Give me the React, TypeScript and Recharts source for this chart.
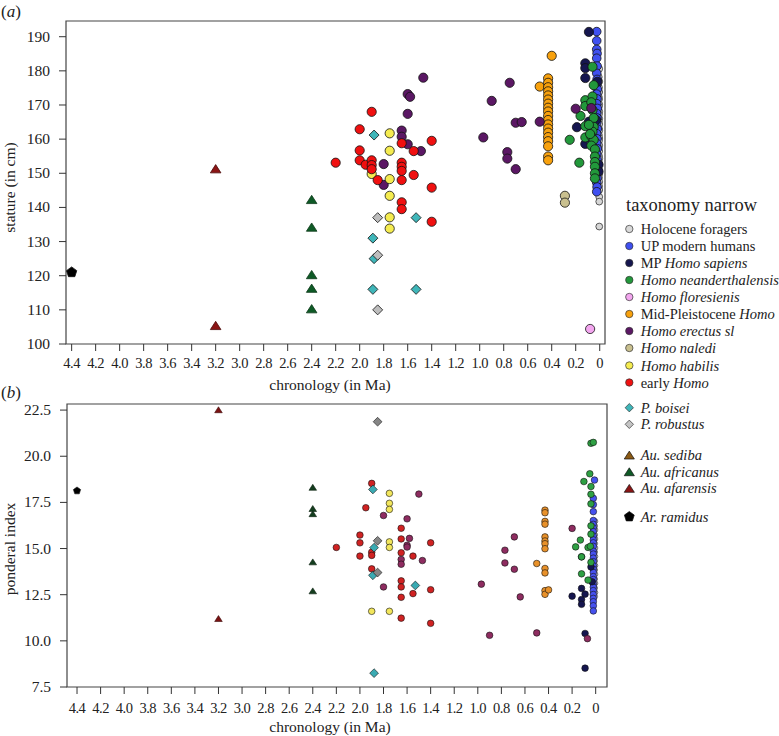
import React from 'react';
import { ScatterChart, Scatter, XAxis, YAxis, ReferenceArea } from 'recharts';

const FONT = "'Liberation Serif', Tinos, 'Times New Roman', Times, 'DejaVu Serif', serif";

const maTicks = [4.4, 4.2, 4.0, 3.8, 3.6, 3.4, 3.2, 3.0, 2.8, 2.6, 2.4, 2.2, 2.0, 1.8, 1.6, 1.4, 1.2, 1.0, 0.8, 0.6, 0.4, 0.2, 0];
const statureTicks = [100, 110, 120, 130, 140, 150, 160, 170, 180, 190];
const ponderalTicks = [7.5, 10, 12.5, 15, 17.5, 20, 22.5];

// [chronology (Ma), stature (cm)]
const holoceneStature = [
  [0.004, 180.6], [0.008, 178.2], [0.004, 176.9], [0.006, 175.1], [0.004, 173.8], [0.008, 172.4], [0.005, 171.7],
  [0.004, 170.2], [0.007, 169.5], [0.004, 168.1], [0.006, 167.3], [0.004, 166.0], [0.008, 165.2], [0.004, 164.4],
  [0.006, 163.1], [0.004, 162.5], [0.007, 161.2], [0.004, 160.3], [0.005, 159.6], [0.004, 158.2], [0.008, 157.4],
  [0.004, 156.5], [0.006, 155.1], [0.004, 154.3], [0.007, 153.2], [0.004, 152.6], [0.005, 151.0], [0.004, 149.8],
  [0.006, 148.7], [0.004, 147.5], [0.005, 146.2], [0.004, 145.1], [0.004, 143.1], [0.004, 141.7], [0.004, 134.4],
];
const upModernStature = [
  [0.025, 191.5], [0.025, 188.8], [0.025, 186.3], [0.022, 185.1], [0.025, 183.7], [0.022, 181.4], [0.025, 179.3],
  [0.022, 177.5], [0.025, 176.0], [0.02, 174.6], [0.025, 173.2], [0.022, 171.8], [0.025, 170.4], [0.02, 169.0],
  [0.025, 167.5], [0.022, 166.2], [0.025, 164.8], [0.02, 163.0], [0.025, 161.6], [0.022, 160.1], [0.025, 158.8],
  [0.02, 157.2], [0.025, 155.6], [0.022, 154.1], [0.025, 152.8], [0.02, 151.2], [0.025, 150.0], [0.022, 148.6],
  [0.025, 147.3], [0.022, 146.0], [0.025, 144.6],
];
const mpSapiensStature = [
  [0.09, 191.4], [0.12, 182.2], [0.12, 180.8], [0.12, 177.9], [0.19, 163.5], [0.12, 158.6], [0.09, 165.1],
  [0.02, 176.8], [0.03, 165.6], [0.01, 152.5], [0.01, 150.5],
];
const neanderthalStature = [
  [0.06, 181.2], [0.05, 175.8], [0.12, 171.4], [0.06, 172.5], [0.12, 169.7], [0.16, 166.8], [0.12, 163.8],
  [0.12, 160.5], [0.25, 159.8], [0.17, 153.1], [0.06, 168.5], [0.05, 166.2], [0.05, 163.6], [0.06, 162.2],
  [0.07, 160.8], [0.05, 159.8], [0.07, 158.1], [0.04, 157.0], [0.04, 154.9], [0.04, 153.3], [0.04, 151.9],
  [0.04, 150.0], [0.04, 148.5], [0.07, 170.8], [0.09, 164.2], [0.08, 161.5],
];
const floresiensisStature = [[0.08, 104.4]];
const midPleistoceneStature = [
  [0.40, 184.4], [0.50, 175.4], [0.43, 177.8], [0.43, 176.5], [0.43, 175.2], [0.43, 174.0], [0.43, 172.8],
  [0.43, 171.6], [0.43, 170.4], [0.43, 169.2], [0.43, 168.1], [0.43, 166.8], [0.43, 165.6], [0.43, 164.3],
  [0.43, 163.1], [0.43, 161.9], [0.43, 160.6], [0.43, 159.4], [0.43, 157.9], [0.43, 154.9], [0.43, 153.8],
];
const erectusStature = [
  [1.60, 173.2], [1.58, 172.4], [1.47, 178.0], [1.60, 167.4], [1.65, 162.5], [1.65, 160.7], [1.60, 158.5],
  [1.49, 156.5], [1.80, 152.7], [1.80, 146.6], [0.75, 176.5], [0.90, 171.2], [0.70, 164.8], [0.65, 165.0],
  [0.50, 165.1], [0.97, 160.5], [0.77, 156.2], [0.77, 154.3], [0.70, 151.2], [0.20, 168.9], [0.07, 169.1],
];
const nalediStature = [[0.29, 143.4], [0.29, 141.4]];
const habilisStature = [[1.75, 161.7], [1.75, 156.6], [1.9, 149.8], [1.75, 148.3], [1.75, 143.4], [1.75, 137.1], [1.75, 133.8]];
const earlyHomoStature = [
  [1.90, 168.0], [2.0, 162.9], [2.0, 156.7], [2.2, 153.1], [2.0, 153.8], [1.95, 152.5], [1.9, 153.8], [1.9, 152.4],
  [1.9, 151.2], [1.85, 148.0], [1.65, 158.8], [1.55, 156.5], [1.65, 153.1], [1.65, 151.9], [1.65, 150.7],
  [1.55, 149.5], [1.65, 148.0], [1.40, 159.5], [1.40, 145.8], [1.65, 141.5], [1.65, 139.5], [1.40, 135.8],
];
const boiseiStature = [[1.88, 161.2], [1.89, 131], [1.88, 125], [1.89, 116], [1.53, 137], [1.53, 116]];
const robustusStature = [[1.85, 137], [1.85, 126], [1.85, 110]];
const africanusStature = [[2.4, 142.2], [2.4, 134.1], [2.4, 120.2], [2.4, 116.2], [2.4, 110.2]];
const afarensisStature = [[3.2, 151.2], [3.2, 105.3]];
const ramidusStature = [[4.4, 121]];

// [chronology (Ma), ponderal index]
const holocenePonderal = [
  [0.002, 16.48], [0.004, 16.22], [0.002, 16.01], [0.004, 15.74], [0.002, 15.52], [0.004, 15.27], [0.002, 15.03],
  [0.004, 14.81], [0.002, 14.57], [0.004, 14.33], [0.002, 14.08], [0.004, 13.84], [0.002, 13.61], [0.004, 13.35],
  [0.002, 13.12], [0.004, 12.86], [0.002, 12.62], [0.004, 12.40],
];
const upModernPonderal = [
  [0.01, 18.71], [0.02, 17.72], [0.02, 17.38], [0.02, 17.0], [0.02, 16.52], [0.02, 16.31], [0.02, 16.12],
  [0.02, 15.92], [0.02, 15.68], [0.02, 15.47], [0.02, 15.31], [0.02, 15.12], [0.02, 14.86], [0.02, 14.70],
  [0.02, 14.48], [0.02, 14.29], [0.02, 14.06], [0.02, 13.88], [0.02, 13.71], [0.02, 13.48], [0.02, 13.32],
  [0.02, 13.09], [0.02, 12.91], [0.02, 12.72], [0.02, 12.51], [0.02, 12.30], [0.02, 12.12], [0.02, 11.90],
  [0.02, 11.62],
];
const mpSapiensPonderal = [
  [0.20, 12.42], [0.12, 12.84], [0.09, 12.53], [0.12, 12.24], [0.12, 11.98], [0.09, 10.4], [0.09, 8.52],
  [0.12, 14.55], [0.04, 14.0], [0.03, 13.2],
];
const neanderthalPonderal = [
  [0.04, 20.7], [0.02, 20.75], [0.05, 19.05], [0.10, 18.63], [0.04, 18.36], [0.04, 17.94], [0.04, 17.42],
  [0.04, 16.23], [0.04, 15.78], [0.13, 15.46], [0.17, 15.09], [0.065, 15.06], [0.045, 15.12], [0.12, 14.55],
  [0.04, 14.25], [0.12, 13.63], [0.065, 13.29],
];
const midPleistocenePonderal = [
  [0.43, 17.08], [0.43, 16.94], [0.43, 16.47], [0.43, 16.32], [0.43, 15.63], [0.43, 15.41], [0.43, 15.26],
  [0.43, 14.99], [0.43, 13.92], [0.43, 13.68], [0.43, 12.72], [0.43, 12.52], [0.40, 12.76], [0.50, 14.19],
];
const erectusPonderal = [
  [1.5, 17.95], [1.8, 16.79], [1.6, 16.61], [1.58, 15.55], [1.6, 15.18], [1.6, 15.08], [1.65, 14.41],
  [1.65, 14.15], [1.47, 14.35], [1.8, 12.92], [0.97, 13.07], [0.69, 15.63], [0.77, 14.91], [0.77, 14.22],
  [0.69, 13.88], [0.64, 12.38], [0.9, 10.3], [0.5, 10.43], [0.2, 16.09], [0.07, 10.12],
];
const habilisPonderal = [[1.75, 17.99], [1.75, 17.45], [1.75, 17.12], [1.75, 15.36], [1.75, 15.06], [1.9, 11.6], [1.75, 11.6]];
const earlyHomoPonderal = [
  [1.9, 18.53], [1.95, 17.21], [1.65, 16.1], [2.0, 15.73], [2.0, 15.31], [2.2, 15.06], [1.65, 15.52],
  [1.4, 15.31], [1.9, 14.8], [1.9, 14.63], [2.0, 14.59], [1.65, 14.77], [1.55, 14.59], [1.9, 13.9],
  [1.65, 13.25], [1.65, 12.92], [1.55, 12.56], [1.4, 12.77], [1.65, 12.36], [1.65, 11.23], [1.4, 10.95],
];
const boiseiPonderal = [[1.89, 18.2], [1.88, 15.05], [1.89, 13.55], [1.88, 8.25], [1.53, 13.0]];
const robustusPonderal = [[1.85, 21.87], [1.85, 15.42], [1.85, 13.7]];
const africanusPonderal = [[2.4, 18.3], [2.4, 17.15], [2.4, 16.87], [2.4, 14.26], [2.4, 12.69]];
const afarensisPonderal = [[3.2, 22.5], [3.2, 11.19]];
const ramidusPonderal = [[4.4, 18.13]];

type Shape = 'circle' | 'diamond' | 'triangle' | 'pentagon';

function Marker({ cx, cy, shape, fill, r, stroke = '#111', sw = 0.8 }: {
  cx?: number; cy?: number; shape: Shape; fill: string; r: number; stroke?: string; sw?: number;
}) {
  if (cx == null || cy == null) return null;
  if (shape === 'circle') return <circle cx={cx} cy={cy} r={r} fill={fill} stroke={stroke} strokeWidth={sw} />;
  let pts: number[][] = [];
  if (shape === 'diamond') pts = [[cx, cy - r], [cx + r, cy], [cx, cy + r], [cx - r, cy]];
  if (shape === 'triangle') pts = [[cx, cy - r], [cx + r * 1.15, cy + r * 0.8], [cx - r * 1.15, cy + r * 0.8]];
  if (shape === 'pentagon') {
    for (let k = 0; k < 5; k++) {
      const a = (-90 + k * 72) * Math.PI / 180;
      pts.push([cx + r * Math.cos(a), cy + r * Math.sin(a)]);
    }
  }
  return <polygon points={pts.map((p) => p.join(',')).join(' ')} fill={fill} stroke={stroke} strokeWidth={sw} />;
}

const toPts = (arr: number[][]) => arr.map(([x, y]) => ({ x, y }));

interface Series { name: string; data: number[][]; shape: Shape; fill: string; r: number; stroke?: string }

const topSeries: Series[] = [
  { name: 'Holocene foragers', data: holoceneStature, shape: 'circle', fill: '#d6d6d6', r: 3.4, stroke: '#333' },
  { name: 'UP modern humans', data: upModernStature, shape: 'circle', fill: '#3f50f0', r: 4.3 },
  { name: 'MP Homo sapiens', data: mpSapiensStature, shape: 'circle', fill: '#15164f', r: 4.6 },
  { name: 'Homo neanderthalensis', data: neanderthalStature, shape: 'circle', fill: '#22983b', r: 4.6 },
  { name: 'Homo floresienis', data: floresiensisStature, shape: 'circle', fill: '#f3a6ef', r: 4.6 },
  { name: 'Mid-Pleistocene Homo', data: midPleistoceneStature, shape: 'circle', fill: '#f8a10d', r: 4.6 },
  { name: 'Homo erectus sl', data: erectusStature, shape: 'circle', fill: '#5b1764', r: 4.6 },
  { name: 'Homo naledi', data: nalediStature, shape: 'circle', fill: '#c9c08f', r: 4.6 },
  { name: 'Homo habilis', data: habilisStature, shape: 'circle', fill: '#f5ec50', r: 4.6 },
  { name: 'early Homo', data: earlyHomoStature, shape: 'circle', fill: '#f01010', r: 4.6 },
  { name: 'P. boisei', data: boiseiStature, shape: 'diamond', fill: '#3fb6b9', r: 5 },
  { name: 'P. robustus', data: robustusStature, shape: 'diamond', fill: '#bdbdbd', r: 5 },
  { name: 'Au. africanus', data: africanusStature, shape: 'triangle', fill: '#0e5a26', r: 4.6, stroke: '#0e3a1a' },
  { name: 'Au. afarensis', data: afarensisStature, shape: 'triangle', fill: '#8b1515', r: 4.6, stroke: '#4a0a0a' },
  { name: 'Ar. ramidus', data: ramidusStature, shape: 'pentagon', fill: '#000', r: 5.4 },
];

const bottomSeries: Series[] = [
  { name: 'Holocene foragers', data: holocenePonderal, shape: 'circle', fill: '#cfcfcf', r: 2.4, stroke: '#333' },
  { name: 'UP modern humans', data: upModernPonderal, shape: 'circle', fill: '#4651ee', r: 3.3 },
  { name: 'MP Homo sapiens', data: mpSapiensPonderal, shape: 'circle', fill: '#15164f', r: 3.3 },
  { name: 'Homo neanderthalensis', data: neanderthalPonderal, shape: 'circle', fill: '#2ea043', r: 3.3 },
  { name: 'Mid-Pleistocene Homo', data: midPleistocenePonderal, shape: 'circle', fill: '#e8912a', r: 3.3 },
  { name: 'Homo erectus sl', data: erectusPonderal, shape: 'circle', fill: '#8e2c60', r: 3.3 },
  { name: 'Homo habilis', data: habilisPonderal, shape: 'circle', fill: '#f2e65c', r: 3.3 },
  { name: 'early Homo', data: earlyHomoPonderal, shape: 'circle', fill: '#d02222', r: 3.3 },
  { name: 'P. boisei', data: boiseiPonderal, shape: 'diamond', fill: '#3aaab2', r: 4.4 },
  { name: 'P. robustus', data: robustusPonderal, shape: 'diamond', fill: '#858585', r: 4.4 },
  { name: 'Au. africanus', data: africanusPonderal, shape: 'triangle', fill: '#143d1e', r: 3.3, stroke: '#0a200f' },
  { name: 'Au. afarensis', data: afarensisPonderal, shape: 'triangle', fill: '#7a1212', r: 3.3, stroke: '#3a0808' },
  { name: 'Ar. ramidus', data: ramidusPonderal, shape: 'pentagon', fill: '#000', r: 3.8 },
];

const fmtMa = (v: number) => (v === 0 ? '0' : v.toFixed(1));

function XTick(props: any) {
  const { x, y, payload, dy } = props;
  return (
    <text x={x} y={y} dy={dy} textAnchor="middle" fontFamily={FONT} fontSize={14.5} letterSpacing={-0.5} fill="#222">
      {fmtMa(payload.value)}
    </text>
  );
}

function YTick(props: any) {
  const { x, y, payload, fmt } = props;
  return (
    <text x={x} y={y} dy={5} textAnchor="end" fontFamily={FONT} fontSize={15.5} fill="#222">
      {fmt(payload.value)}
    </text>
  );
}

function Panel({ series, yDomain, xDomain, yTicks, yFmt, height, margin, yWidth, xHeight, tickDy, sw }: any) {
  return (
    <ScatterChart width={779} height={height} margin={margin}>
      <XAxis
        type="number"
        dataKey="x"
        domain={xDomain}
        reversed
        allowDataOverflow
        ticks={maTicks}
        interval={0}
        height={xHeight}
        axisLine={false}
        tickLine={{ stroke: '#333' }}
        tickSize={7}
        tickMargin={2}
        tick={(p: any) => <XTick {...p} dy={tickDy} />}
      />
      <YAxis
        type="number"
        dataKey="y"
        domain={yDomain}
        allowDataOverflow
        ticks={yTicks}
        interval={0}
        width={yWidth}
        axisLine={false}
        tickLine={{ stroke: '#333' }}
        tickSize={7}
        tickMargin={9}
        tick={(p: any) => <YTick {...p} fmt={yFmt} />}
      />
      <ReferenceArea x1={xDomain[0]} x2={xDomain[1]} y1={yDomain[0]} y2={yDomain[1]} fill="none" stroke="#444" strokeWidth={1.2} />
      {series.map((s: Series) => (
        <Scatter
          key={s.name}
          name={s.name}
          data={toPts(s.data)}
          isAnimationActive={false}
          shape={(p: any) => <Marker cx={p.cx} cy={p.cy} shape={s.shape} fill={s.fill} r={s.r} stroke={s.stroke} sw={sw} />}
        />
      ))}
    </ScatterChart>
  );
}

const legendTop: { label: React.ReactNode; shape: Shape; fill: string; y: number }[] = [
  { label: 'Holocene foragers', shape: 'circle', fill: '#d9d9d9', y: 229 },
  { label: 'UP modern humans', shape: 'circle', fill: '#3f50f0', y: 246 },
  { label: <>MP <tspan fontStyle="italic">Homo sapiens</tspan></>, shape: 'circle', fill: '#15164f', y: 263 },
  { label: <tspan fontStyle="italic">Homo neanderthalensis</tspan>, shape: 'circle', fill: '#22983b', y: 280 },
  { label: <tspan fontStyle="italic">Homo floresienis</tspan>, shape: 'circle', fill: '#f3a6ef', y: 297 },
  { label: <>Mid-Pleistocene <tspan fontStyle="italic">Homo</tspan></>, shape: 'circle', fill: '#f8a10d', y: 314 },
  { label: <tspan fontStyle="italic">Homo erectus sl</tspan>, shape: 'circle', fill: '#5b1764', y: 331 },
  { label: <tspan fontStyle="italic">Homo naledi</tspan>, shape: 'circle', fill: '#c9c08f', y: 348 },
  { label: <tspan fontStyle="italic">Homo habilis</tspan>, shape: 'circle', fill: '#f5ec50', y: 365.5 },
  { label: <>early <tspan fontStyle="italic">Homo</tspan></>, shape: 'circle', fill: '#f01010', y: 382.5 },
  { label: <tspan fontStyle="italic">P. boisei</tspan>, shape: 'diamond', fill: '#3fb6b9', y: 407.7 },
  { label: <tspan fontStyle="italic">P. robustus</tspan>, shape: 'diamond', fill: '#c4c4c4', y: 424.3 },
  { label: <tspan fontStyle="italic">Au. sediba</tspan>, shape: 'triangle', fill: '#8b5a14', y: 455 },
  { label: <tspan fontStyle="italic">Au. africanus</tspan>, shape: 'triangle', fill: '#0e5a26', y: 471.7 },
  { label: <tspan fontStyle="italic">Au. afarensis</tspan>, shape: 'triangle', fill: '#8b1515', y: 488.3 },
  { label: <tspan fontStyle="italic">Ar. ramidus</tspan>, shape: 'pentagon', fill: '#000', y: 516.7 },
];

export default function App() {
  return (
    <div style={{ position: 'absolute', left: 0, top: 0, width: 779, height: 736, background: '#fff', fontFamily: FONT }}>
      <div style={{ position: 'absolute', left: 0, top: 0 }}>
        <Panel
          series={topSeries}
          xDomain={[-0.044, 4.447]}
          yDomain={[100, 194.6]}
          yTicks={statureTicks}
          yFmt={(v: number) => String(v)}
          height={395}
          margin={{ top: 21, right: 174, bottom: 0, left: 0 }}
          yWidth={66}
          xHeight={51}
          tickDy={15.3}
          sw={0.8}
        />
      </div>
      <div style={{ position: 'absolute', left: 0, top: 380 }}>
        <Panel
          series={bottomSeries}
          xDomain={[-0.096, 4.485]}
          yDomain={[7.5, 22.83]}
          yTicks={ponderalTicks}
          yFmt={(v: number) => v.toFixed(1)}
          height={356}
          margin={{ top: 24, right: 172, bottom: 0, left: 0 }}
          yWidth={67}
          xHeight={49}
          tickDy={17.3}
          sw={0.6}
        />
      </div>
      <svg width={779} height={736} style={{ position: 'absolute', left: 0, top: 0, pointerEvents: 'none', fontFamily: FONT }} fill="#222">
        <text x={1} y={17} fontSize={17}>(<tspan fontStyle="italic">a</tspan>)</text>
        <text x={1} y={398} fontSize={17}>(<tspan fontStyle="italic">b</tspan>)</text>
        <text x={330} y={389.5} fontSize={15.5} textAnchor="middle">chronology (in Ma)</text>
        <text x={330} y={732} fontSize={15.5} textAnchor="middle">chronology (in Ma)</text>
        <text transform="translate(14.5,187.5) rotate(-90)" fontSize={15.5} textAnchor="middle">stature (in cm)</text>
        <text transform="translate(14.5,549) rotate(-90)" fontSize={15.5} textAnchor="middle">ponderal index</text>
        <text x={626} y={210.5} fontSize={18.5}>taxonomy narrow</text>
        {legendTop.map((e, i) => (
          <g key={i}>
            <Marker
              cx={629.3}
              cy={e.shape === 'triangle' ? e.y + 0.5 : e.y}
              shape={e.shape}
              fill={e.fill}
              r={e.shape === 'circle' ? 3.7 : e.shape === 'diamond' ? 4.2 : e.shape === 'triangle' ? 4.4 : 5.2}
              stroke={e.shape === 'circle' || e.shape === 'diamond' ? '#333' : '#111'}
              sw={0.7}
            />
            <text x={640.7} y={e.y + 5} fontSize={14.5}>{e.label}</text>
          </g>
        ))}
      </svg>
    </div>
  );
}
